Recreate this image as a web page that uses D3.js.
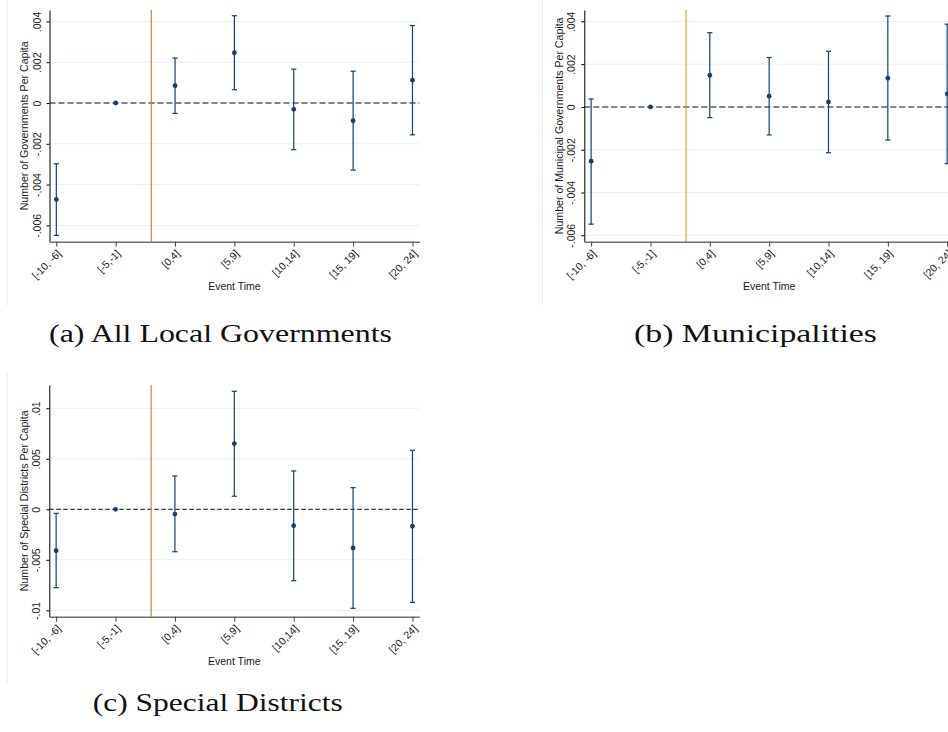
<!DOCTYPE html>
<html><head><meta charset="utf-8">
<script src="https://cdn.jsdelivr.net/npm/d3@7"></script>
<style>body{margin:0;background:#fff} svg{display:block}</style>
</head><body>
<svg id="chart" width="948" height="732"></svg>
<script>
// ---- data ----
const categories = ["[-10, -6]", "[-5,-1]", "[0,4]", "[5,9]", "[10,14]", "[15, 19]", "[20, 24]"];

const allEst = [-0.00473, 0, 0.00085, 0.00247, -0.00031, -0.00087, 0.00112];
const allLo  = [-0.00649, null, -0.00051, 0.00065, -0.00229, -0.00329, -0.00156];
const allHi  = [-0.00298, null, 0.00220, 0.00428, 0.00166, 0.00156, 0.00380];

const munEst = [-0.00254, 0, 0.00148, 0.00050, 0.00023, 0.00134, 0.00061];
const munLo  = [-0.00548, null, -0.00050, -0.00131, -0.00214, -0.00155, -0.00265];
const munHi  = [0.00037, null, 0.00347, 0.00231, 0.00260, 0.00425, 0.00387];

const spdEst = [-0.00410, 0, -0.00047, 0.00650, -0.00162, -0.00383, -0.00168];
const spdLo  = [-0.00776, null, -0.00420, 0.00129, -0.00707, -0.00980, -0.00921];
const spdHi  = [-0.00040, null, 0.00330, 0.01168, 0.00379, 0.00214, 0.00584];

const ticksSmall = [-0.006, -0.004, -0.002, 0, 0.002, 0.004];
const tickLabelsSmall = ["-.006", "-.004", "-.002", "0", ".002", ".004"];
const ticksLarge = [-0.01, -0.005, 0, 0.005, 0.01];
const tickLabelsLarge = ["-.01", "-.005", "0", ".005", ".01"];

const yTitles = ["Number of Governments Per Capita", "Number of Municipal Governments Per Capita", "Number of Special Districts Per Capita"];
const xTitle = "Event Time";
const captions = ["(a) All Local Governments", "(b) Municipalities", "(c) Special Districts"];

// ---- drawing ----
const svg = d3.select("#chart");
const sans = "'Liberation Sans', Arial, sans-serif";
const serif = "'Liberation Serif', 'Times New Roman', serif";
const navy = "#14406e";

function drawPanel(p) {
  const g = svg.append("g");
  // faint frame edge
  g.append("line").attr("x1", p.frameX).attr("x2", p.frameX).attr("y1", p.frameTop).attr("y2", p.frameBottom)
    .attr("stroke", "#eeeeee").attr("stroke-width", 1);

  const x = d3.scalePoint().domain(categories).range([p.left, p.right]).padding(0.115);
  const y = d3.scaleLinear().domain(p.yDomain).range([p.bottom, p.top]);

  // grid
  g.append("g").selectAll("line").data(p.ticks).join("line")
    .attr("x1", p.left).attr("x2", p.right)
    .attr("y1", d => y(d)).attr("y2", d => y(d))
    .attr("stroke", "#e8f0f2").attr("stroke-width", 1);

  // zero line
  g.append("line").attr("x1", p.left).attr("x2", p.right).attr("y1", y(0)).attr("y2", y(0))
    .attr("stroke", p.zeroColor).attr("stroke-width", p.zeroWidth).attr("stroke-dasharray", p.zeroDash);

  // vertical event line
  const vx = x(categories[1]) + 0.6 * x.step();
  g.append("line").attr("x1", vx).attr("x2", vx).attr("y1", p.top).attr("y2", p.bottom)
    .attr("stroke", p.vColor).attr("stroke-width", 1.2);

  const rows = categories.map((c, i) => ({c, est: p.est[i], lo: p.lo[i], hi: p.hi[i]}));
  const eb = g.append("g").selectAll("g").data(rows.filter(r => r.lo !== null)).join("g")
    .attr("stroke", navy).attr("stroke-width", 1.2);
  eb.append("line").attr("x1", d => x(d.c)).attr("x2", d => x(d.c)).attr("y1", d => y(d.lo)).attr("y2", d => y(d.hi));
  eb.append("line").attr("x1", d => x(d.c) - 2.6).attr("x2", d => x(d.c) + 2.6).attr("y1", d => y(d.lo)).attr("y2", d => y(d.lo));
  eb.append("line").attr("x1", d => x(d.c) - 2.6).attr("x2", d => x(d.c) + 2.6).attr("y1", d => y(d.hi)).attr("y2", d => y(d.hi));

  g.append("g").selectAll("circle").data(rows).join("circle")
    .attr("cx", d => x(d.c)).attr("cy", d => y(d.est)).attr("r", 2.4).attr("fill", navy);

  // y axis
  const ya = g.append("g").attr("transform", `translate(${p.left},0)`)
    .call(d3.axisLeft(y).tickValues(p.ticks).tickFormat((d, i) => p.tickLabels[i]).tickSize(3).tickSizeOuter(0));
  ya.select(".domain").attr("stroke", "#000").attr("stroke-width", 1);
  ya.selectAll(".tick line").attr("stroke", "#000");
  ya.selectAll(".tick text").attr("transform", "rotate(-90)").attr("x", 0).attr("y", -9).attr("dy", 0)
    .attr("text-anchor", "middle").attr("font-family", sans).attr("font-size", 10.5).attr("fill", "#1a1a1a");

  // x axis
  const xa = g.append("g").attr("transform", `translate(0,${p.bottom})`)
    .call(d3.axisBottom(x).tickSize(5).tickSizeOuter(0));
  xa.select(".domain").attr("stroke", "#6f6f6f").attr("stroke-width", 1.6);
  xa.selectAll(".tick line").attr("stroke", "#444");
  xa.selectAll(".tick text").attr("transform", "translate(5,12.5) rotate(-45)").attr("x", 0).attr("y", 0).attr("dy", 0)
    .attr("text-anchor", "end").attr("font-family", sans).attr("font-size", 10.5).attr("fill", "#1a1a1a");

  // titles
  g.append("text").attr("transform", `translate(${p.left - 21.2},${(p.top + p.bottom) / 2}) rotate(-90)`)
    .attr("text-anchor", "middle").attr("font-family", sans).attr("font-size", 10.6).attr("fill", "#1a1a1a")
    .text(p.yTitle);
  g.append("text").attr("x", (p.left + p.right) / 2).attr("y", p.bottom + 48.3)
    .attr("text-anchor", "middle").attr("font-family", sans).attr("font-size", 10.5).attr("fill", "#1a1a1a")
    .text(xTitle);

  // caption
  g.append("text").attr("x", p.capX).attr("y", p.capY).attr("font-family", serif).attr("font-size", 26)
    .attr("fill", "#111").attr("textLength", p.capW).attr("lengthAdjust", "spacingAndGlyphs")
    .text(p.caption);
}

drawPanel({left: 49.5, right: 419.3, top: 10, bottom: 241.7, yDomain: [-0.0068, 0.00456],
  ticks: ticksSmall, tickLabels: tickLabelsSmall, est: allEst, lo: allLo, hi: allHi,
  yTitle: yTitles[0], caption: captions[0], capX: 49, capY: 341.7, capW: 343,
  zeroColor: "#5f5f5f", zeroWidth: 1.5, zeroDash: "6,3", vColor: "#c8873f",
  frameX: 7.5, frameTop: 0, frameBottom: 306});

drawPanel({left: 584.3, right: 954, top: 10, bottom: 241.7, yDomain: [-0.0063, 0.00453],
  ticks: ticksSmall, tickLabels: tickLabelsSmall, est: munEst, lo: munLo, hi: munHi,
  yTitle: yTitles[1], caption: captions[1], capX: 634, capY: 341.7, capW: 243,
  zeroColor: "#5f5f5f", zeroWidth: 1.5, zeroDash: "6,3", vColor: "#e3a22c",
  frameX: 542.5, frameTop: 0, frameBottom: 306});

drawPanel({left: 49.3, right: 419.3, top: 385, bottom: 616.7, yDomain: [-0.01063, 0.0123],
  ticks: ticksLarge, tickLabels: tickLabelsLarge, est: spdEst, lo: spdLo, hi: spdHi,
  yTitle: yTitles[2], caption: captions[2], capX: 92.7, capY: 711.3, capW: 250,
  zeroColor: "#111111", zeroWidth: 1, zeroDash: "4.5,2.5", vColor: "#c8873f",
  frameX: 7.5, frameTop: 373, frameBottom: 684});
</script>
</body></html>
